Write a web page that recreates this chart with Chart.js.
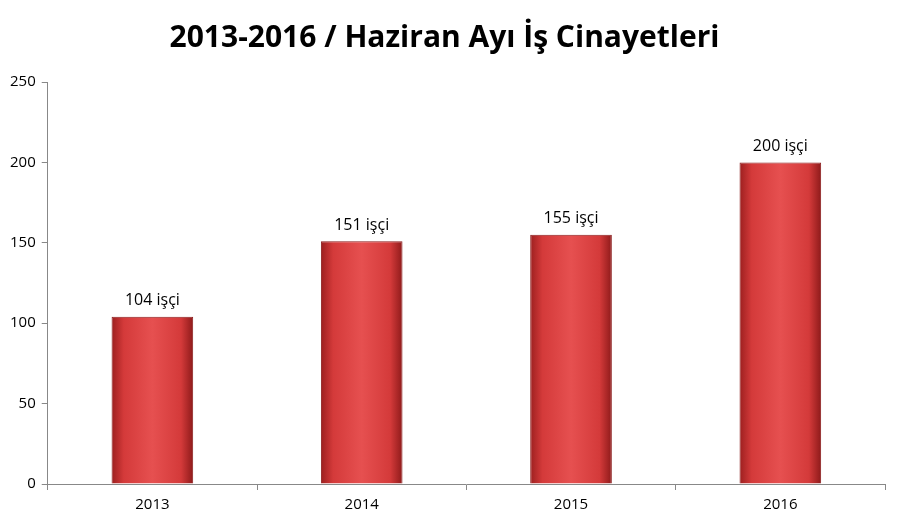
<!DOCTYPE html>
<html>
<head>
<meta charset="utf-8">
<script src="https://cdn.jsdelivr.net/npm/chart.js@4"></script>
<style>
  body { margin: 0; background: #fff; }
  #wrap { width: 901px; height: 524px; }
</style>
</head>
<body>
<div id="wrap"><canvas id="chart"></canvas></div>
<script>
const years = ['2013', '2014', '2015', '2016'];
const deaths = [104, 151, 155, 200];
const yTicks = [0, 50, 100, 150, 200, 250];

// Value labels above each bar
const barLabels = {
  id: 'barLabels',
  afterDatasetsDraw(chart) {
    const ctx = chart.ctx;
    const meta = chart.getDatasetMeta(0);
    ctx.save();
    ctx.font = '16px "Open Sans", sans-serif';
    ctx.fillStyle = '#000';
    ctx.textAlign = 'center';
    ctx.textBaseline = 'bottom';
    meta.data.forEach(function (bar, i) {
      ctx.fillText(deaths[i] + ' işçi', bar.x, bar.y - 8);
    });
    ctx.restore();
  }
};

function barFill(context) {
  const chart = context.chart;
  const xs = chart.scales && chart.scales.x;
  if (!xs || context.dataIndex === undefined) return '#d63c3c';
  const cx = xs.getPixelForValue(context.dataIndex);
  const half = xs.width / years.length * 0.39 / 2;
  if (!isFinite(cx) || !isFinite(half) || half <= 0) return '#d63c3c';
  const g = chart.ctx.createLinearGradient(cx - half, 0, cx + half, 0);
  g.addColorStop(0, '#9c1f1f');
  g.addColorStop(0.15, '#d43a3a');
  g.addColorStop(0.5, '#e65050');
  g.addColorStop(0.85, '#d43a3a');
  g.addColorStop(1, '#8e1a1a');
  return g;
}

new Chart(document.getElementById('chart'), {
  type: 'bar',
  data: {
    labels: years,
    datasets: [{
      data: deaths,
      backgroundColor: barFill,
      borderColor: '#8a1c1c',
      borderWidth: 1,
      categoryPercentage: 1,
      barPercentage: 0.39
    }]
  },
  plugins: [barLabels],
  options: {
    responsive: true,
    maintainAspectRatio: false,
    animation: false,
    layout: { padding: { left: 4, right: 16, top: 0, bottom: 4 } },
    plugins: {
      legend: { display: false },
      tooltip: { enabled: false },
      title: {
        display: true,
        text: '2013-2016 / Haziran Ayı İş Cinayetleri',
        color: '#000',
        font: { family: '"Open Sans", sans-serif', size: 30, weight: 'bold' },
        padding: { top: 20, bottom: 26 }
      }
    },
    scales: {
      y: {
        min: 0,
        max: 250,
        afterBuildTicks(axis) { axis.ticks = yTicks.map(v => ({ value: v })); },
        ticks: { color: '#000', font: { family: '"Open Sans", sans-serif', size: 15 }, padding: 6 },
        grid: { display: true, drawOnChartArea: false, drawTicks: true, tickLength: 6, color: '#888' },
        border: { color: '#888' }
      },
      x: {
        ticks: { color: '#000', font: { family: '"Open Sans", sans-serif', size: 15 }, padding: 6 },
        grid: { display: true, offset: true, drawOnChartArea: false, drawTicks: true, tickLength: 6, color: '#888' },
        border: { color: '#888' }
      }
    }
  }
});
</script>
</body>
</html>
